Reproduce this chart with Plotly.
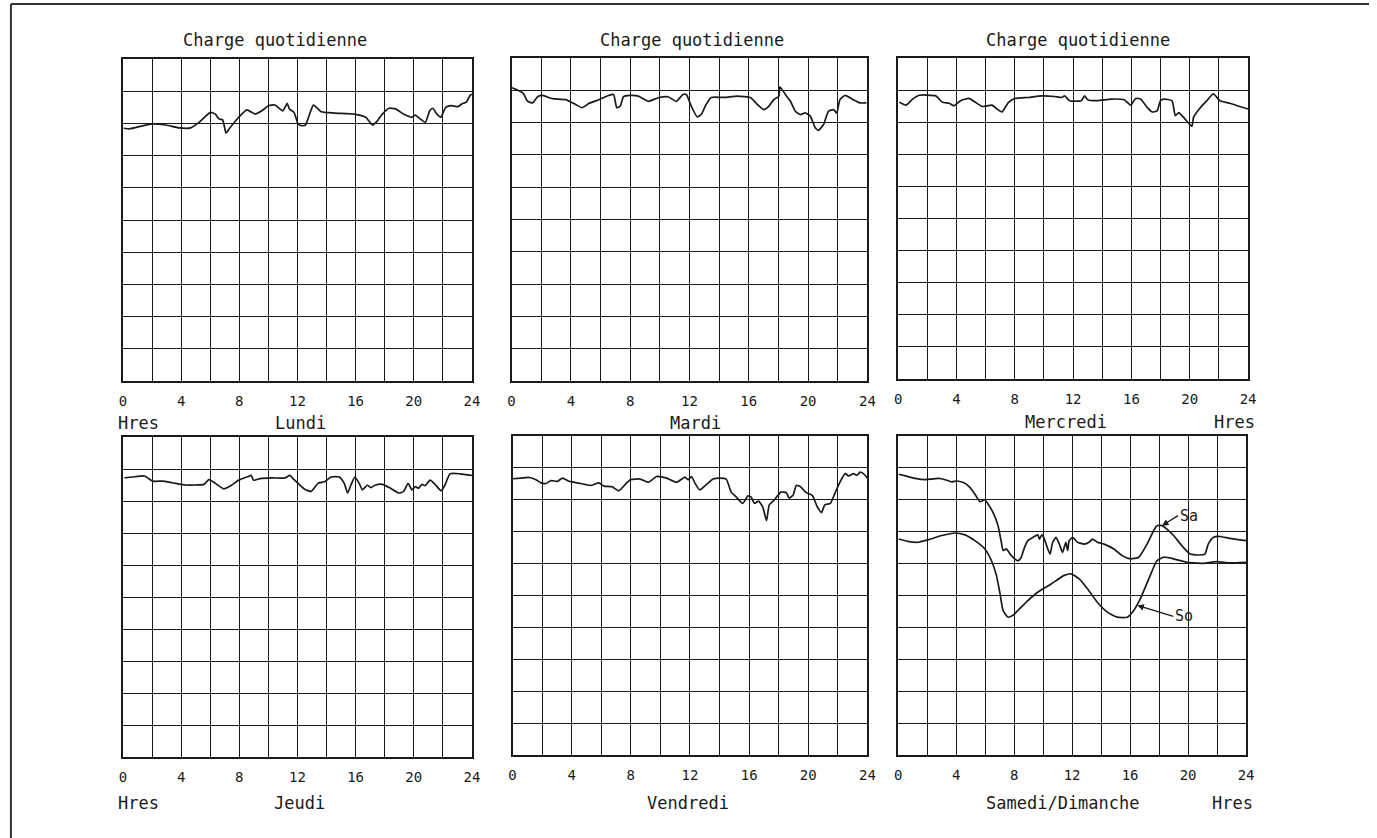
import plotly.graph_objects as go

W, H = 1377, 838

# ---------------- data (hours, load in grid units 0-10) ----------------
lundi_h = [0.05, 0.45, 1.9, 2.95, 3.86, 4.66, 5.23, 6.02, 6.36, 6.59, 6.86, 7.09, 7.39, 7.96, 8.52,
           9.09, 9.55, 10.0, 10.45, 10.8, 11.0, 11.3, 11.45, 11.77, 12.05, 12.27, 12.55, 12.84, 13.1,
           13.64, 14.55, 15.9, 16.7, 17.16, 17.5, 17.84, 18.3, 18.75, 19.3, 19.89, 20.1, 20.45, 20.8,
           21.1, 21.3, 21.6, 21.86, 22.2, 22.6, 23.05, 23.3, 23.64, 23.86, 24.0]
lundi_v = [7.85, 7.83, 7.98, 7.95, 7.86, 7.86, 8.03, 8.34, 8.29, 8.14, 8.11, 7.70, 7.88, 8.19, 8.42,
           8.29, 8.39, 8.55, 8.57, 8.45, 8.39, 8.62, 8.45, 8.34, 7.98, 7.93, 7.95, 8.29, 8.57,
           8.36, 8.32, 8.29, 8.19, 7.95, 8.08, 8.29, 8.47, 8.45, 8.29, 8.19, 8.26, 8.14, 8.03,
           8.39, 8.47, 8.29, 8.19, 8.50, 8.55, 8.52, 8.60, 8.67, 8.86, 8.91]

mardi_h = [0.04, 0.76, 1.09, 1.42, 1.76, 2.09, 2.76, 3.65, 4.32, 4.76, 5.21, 5.88, 6.55, 6.88, 7.1,
           7.33, 7.55, 7.99, 8.55, 9.22, 9.89, 10.56, 11.11, 11.56, 11.79, 12.12, 12.52, 12.79, 13.12,
           13.46, 14.35, 15.24, 16.13, 16.58, 17.02, 17.36, 17.69, 18.03, 18.1, 18.47, 18.81, 19.14,
           19.48, 19.81, 20.15, 20.48, 20.7, 21.04, 21.37, 21.71, 21.93, 22.15, 22.49, 23.04, 23.49, 23.93]
mardi_v = [9.08, 8.92, 8.66, 8.61, 8.80, 8.84, 8.74, 8.71, 8.56, 8.46, 8.59, 8.71, 8.84, 8.87, 8.46,
           8.51, 8.80, 8.84, 8.82, 8.66, 8.77, 8.80, 8.66, 8.87, 8.87, 8.51, 8.18, 8.25, 8.56,
           8.78, 8.78, 8.82, 8.77, 8.56, 8.40, 8.51, 8.71, 8.82, 9.11, 8.87, 8.66, 8.35,
           8.25, 8.30, 8.20, 7.84, 7.76, 7.94, 8.35, 8.40, 8.30, 8.71, 8.84, 8.71, 8.61, 8.61]

mercredi_h = [0.09, 0.54, 0.99, 1.45, 2.58, 3.04, 3.49, 3.83, 4.28, 4.85, 5.3, 5.76, 6.44, 6.78, 7.12,
              7.57, 8.02, 8.93, 9.84, 10.74, 11.2, 11.42, 11.76, 12.56, 12.78, 13.0, 13.68, 14.59,
              15.5, 15.95, 16.29, 16.63, 17.08, 17.42, 17.76, 17.99, 18.22, 18.78, 19.01, 19.24,
              19.58, 19.92, 20.15, 20.26, 20.6, 21.17, 21.62, 22.07, 22.75, 23.43, 24.0]
mercredi_v = [8.62, 8.53, 8.72, 8.84, 8.82, 8.62, 8.59, 8.51, 8.67, 8.74, 8.62, 8.49, 8.53, 8.41, 8.32,
              8.62, 8.74, 8.77, 8.82, 8.80, 8.77, 8.82, 8.67, 8.67, 8.82, 8.70, 8.67, 8.72,
              8.70, 8.53, 8.74, 8.72, 8.46, 8.32, 8.35, 8.67, 8.72, 8.67, 8.20, 8.30,
              8.15, 7.97, 7.87, 8.15, 8.38, 8.67, 8.88, 8.67, 8.59, 8.49, 8.41]

jeudi_h = [0.11, 0.68, 1.48, 2.05, 2.73, 3.41, 4.32, 5.0, 5.57, 5.91, 6.36, 6.93, 7.39, 7.95, 8.64,
           8.82, 8.98, 9.43, 10.23, 11.14, 11.48, 11.7, 12.05, 12.5, 12.95, 13.41, 13.86, 14.32,
           14.88, 15.22, 15.45, 15.68, 15.95, 16.25, 16.47, 16.82, 17.04, 17.38, 17.84, 18.4, 18.97,
           19.31, 19.61, 19.88, 20.11, 20.34, 20.56, 20.79, 21.13, 21.47, 21.88, 22.15, 22.5, 23.18, 24.0]
jeudi_v = [8.72, 8.75, 8.78, 8.62, 8.62, 8.57, 8.50, 8.50, 8.52, 8.67, 8.55, 8.38, 8.47, 8.65, 8.77,
           8.80, 8.65, 8.70, 8.72, 8.72, 8.80, 8.70, 8.55, 8.37, 8.30, 8.55, 8.60, 8.75,
           8.75, 8.55, 8.25, 8.50, 8.75, 8.55, 8.35, 8.50, 8.42, 8.50, 8.52, 8.40, 8.25,
           8.30, 8.55, 8.35, 8.45, 8.40, 8.52, 8.48, 8.65, 8.52, 8.32, 8.50, 8.85, 8.85, 8.80]

vendredi_h = [0.02, 0.58, 1.14, 1.59, 1.93, 2.26, 2.6, 3.04, 3.38, 3.83, 4.61, 5.28, 5.84, 6.17, 6.73,
              7.18, 7.52, 7.97, 8.64, 9.19, 9.75, 10.42, 11.1, 11.66, 11.88, 12.1, 12.33, 12.66, 13.0,
              13.56, 14.0, 14.45, 14.79, 15.12, 15.57, 15.91, 16.13, 16.36, 16.64, 16.91, 17.18, 17.36,
              17.7, 18.14, 18.52, 18.7, 18.97, 19.19, 19.48, 19.82, 20.27, 20.6, 20.89, 21.12, 21.5,
              21.83, 22.17, 22.5, 22.73, 23.07, 23.29, 23.51, 23.73, 24.0]
vendredi_v = [8.66, 8.68, 8.70, 8.63, 8.53, 8.51, 8.60, 8.58, 8.68, 8.58, 8.51, 8.45, 8.53, 8.43, 8.41,
              8.28, 8.43, 8.63, 8.65, 8.55, 8.73, 8.68, 8.55, 8.71, 8.63, 8.73, 8.53, 8.31, 8.43,
              8.65, 8.68, 8.65, 8.24, 8.09, 7.89, 8.12, 8.09, 7.89, 7.96, 7.79, 7.35, 7.84,
              7.99, 8.24, 8.22, 8.06, 8.14, 8.45, 8.41, 8.24, 8.14, 7.79, 7.60, 7.84, 7.89,
              8.24, 8.58, 8.82, 8.75, 8.82, 8.77, 8.87, 8.82, 8.68]

samedi_h = [0.04, 0.50, 1.18, 1.87, 2.33, 2.78, 3.24, 3.70, 4.04, 4.50, 4.95, 5.29, 5.64, 5.98, 6.21,
            6.55, 6.89, 7.12, 7.24, 7.46, 7.81, 8.26, 8.49, 8.72, 8.95, 9.29, 9.63, 9.75, 9.91, 10.09,
            10.32, 10.48, 10.66, 10.89, 11.12, 11.34, 11.57, 11.69, 11.80, 12.03, 12.37, 12.83, 13.17,
            13.40, 13.74, 14.20, 14.88, 15.45, 16.02, 16.60, 17.17, 17.62, 17.85, 18.20, 18.54, 19.00,
            19.57, 20.13, 20.82, 21.16, 21.39, 21.73, 22.19, 22.87, 24.0]
samedi_v = [8.80, 8.75, 8.67, 8.63, 8.65, 8.67, 8.63, 8.56, 8.59, 8.54, 8.39, 8.18, 7.94, 8.00, 7.86,
            7.60, 7.19, 6.67, 6.41, 6.46, 6.25, 6.09, 6.20, 6.51, 6.72, 6.82, 6.90, 6.77, 6.90, 6.77,
            6.46, 6.30, 6.67, 6.82, 6.61, 6.35, 6.67, 6.41, 6.72, 6.82, 6.67, 6.61, 6.67,
            6.77, 6.67, 6.61, 6.46, 6.25, 6.15, 6.20, 6.61, 7.03, 7.19, 7.19, 7.08, 6.88,
            6.56, 6.30, 6.27, 6.30, 6.61, 6.82, 6.85, 6.79, 6.72]

dimanche_h = [0.04, 0.73, 1.41, 2.10, 3.01, 3.92, 4.61, 5.29, 5.98, 6.44, 6.78, 7.01, 7.24, 7.58, 7.92,
              8.26, 8.95, 9.63, 10.55, 11.46, 11.92, 12.49, 13.06, 13.74, 14.43, 15.11, 15.80, 16.25,
              16.71, 17.39, 17.85, 18.31, 18.99, 19.91, 20.36, 21.05, 21.96, 22.87, 24.0]
dimanche_v = [6.77, 6.69, 6.67, 6.75, 6.88, 6.96, 6.90, 6.72, 6.46, 6.09, 5.63, 5.10, 4.53, 4.32, 4.38,
              4.53, 4.84, 5.10, 5.36, 5.63, 5.68, 5.52, 5.21, 4.79, 4.48, 4.32, 4.32, 4.53,
              4.90, 5.63, 6.09, 6.20, 6.15, 6.04, 6.02, 6.01, 6.06, 6.02, 6.04]

tick_hours = list(range(0, 25, 2))
tick_text = [str(h) if h % 4 == 0 else "" for h in tick_hours]

title_top = "Charge quotidienne"
day_labels = ["Lundi", "Mardi", "Mercredi", "Jeudi", "Vendredi", "Samedi/Dimanche"]
unit_label = "Hres"

# ---------------- layout helpers ----------------
def px_x(p):
    return p / W

def px_y(p):
    return 1 - p / H

FONT = "DejaVu Sans Mono"
INK = "#1a1a1a"

panels = [  # (x0, x1, y0, y1) in pixels
    (120, 472, 59, 381),
    (512, 871, 58, 381),
    (902, 1255, 58, 379),
    (120, 472, 437, 757),
    (513, 871, 436, 755),
    (902, 1253, 436, 755),
]

fig = go.Figure()

series = [
    [(lundi_h, lundi_v)],
    [(mardi_h, mardi_v)],
    [(mercredi_h, mercredi_v)],
    [(jeudi_h, jeudi_v)],
    [(vendredi_h, vendredi_v)],
    [(samedi_h, samedi_v), (dimanche_h, dimanche_v)],
]

layout = dict(
    width=W, height=H,
    margin=dict(l=0, r=0, t=0, b=0),
    paper_bgcolor="white", plot_bgcolor="white",
    showlegend=False,
    font=dict(family=FONT, color=INK),
)

for i, (x0, x1, y0, y1) in enumerate(panels):
    n = "" if i == 0 else str(i + 1)
    layout["xaxis" + n] = dict(
        domain=[px_x(x0), px_x(x1)], range=[0, 24], anchor="y" + n,
        tickvals=tick_hours, ticktext=tick_text, showgrid=True,
        gridcolor=INK, gridwidth=1, zeroline=False,
        showline=True, mirror=True, linecolor=INK, linewidth=1.5,
        ticks="", tickfont=dict(family=FONT, size=14, color=INK),
        ticklabelstandoff=6, fixedrange=True,
    )
    layout["yaxis" + n] = dict(
        domain=[px_y(y1), px_y(y0)], range=[0, 10], anchor="x" + n,
        dtick=1, tick0=0, showgrid=True, gridcolor=INK, gridwidth=1,
        zeroline=False, showticklabels=False, ticks="",
        showline=True, mirror=True, linecolor=INK, linewidth=1.5, fixedrange=True,
    )
    for (hx, vy) in series[i]:
        fig.add_trace(go.Scatter(
            x=hx, y=vy, mode="lines", xaxis="x" + n, yaxis="y" + n,
            line=dict(color=INK, width=1.7, shape="spline", smoothing=0.5),
            hoverinfo="skip",
        ))

fig.update_layout(**layout)

ann = []
def text(x, y, s, size=17):
    ann.append(dict(x=px_x(x), y=px_y(y), xref="paper", yref="paper", text=s,
                    showarrow=False, font=dict(family=FONT, size=size, color=INK),
                    xanchor="center", yanchor="middle"))

for cx in (273, 694, 1083):
    text(cx, 40, title_top)

text(136, 423, unit_label)
text(299, 423, day_labels[0])
text(698, 423, day_labels[1])
text(1071, 422, day_labels[2])
text(1241, 422, unit_label)

text(136, 803, unit_label)
text(298, 803, day_labels[3])
text(690, 803, day_labels[4])
text(1068, 803, day_labels[5])
text(1239, 803, unit_label)

# curve labels in the weekend panel
ann.append(dict(x=18.2, y=7.19, xref="x6", yref="y6", text="Sa", showarrow=True,
                arrowhead=2, arrowsize=1, arrowwidth=1.3, arrowcolor=INK,
                ax=16, ay=-10, xanchor="left", font=dict(family=FONT, size=15, color=INK)))
ann.append(dict(x=16.5, y=4.69, xref="x6", yref="y6", text="So", showarrow=True,
                arrowhead=2, arrowsize=1, arrowwidth=1.3, arrowcolor=INK,
                ax=36, ay=11, xanchor="left", font=dict(family=FONT, size=15, color=INK)))

fig.update_layout(annotations=ann)

# page frame: top and left rules
fig.add_shape(type="line", xref="paper", yref="paper", x0=px_x(7), x1=1, y0=px_y(4), y1=px_y(4),
              line=dict(color="#333333", width=2))
fig.add_shape(type="line", xref="paper", yref="paper", x0=px_x(7), x1=px_x(7), y0=px_y(4), y1=0,
              line=dict(color="#333333", width=2))

fig.write_html("out.html",
               config={"displayModeBar": False},
               post_script="document.body.style.margin='0';document.body.style.overflow='hidden';")
